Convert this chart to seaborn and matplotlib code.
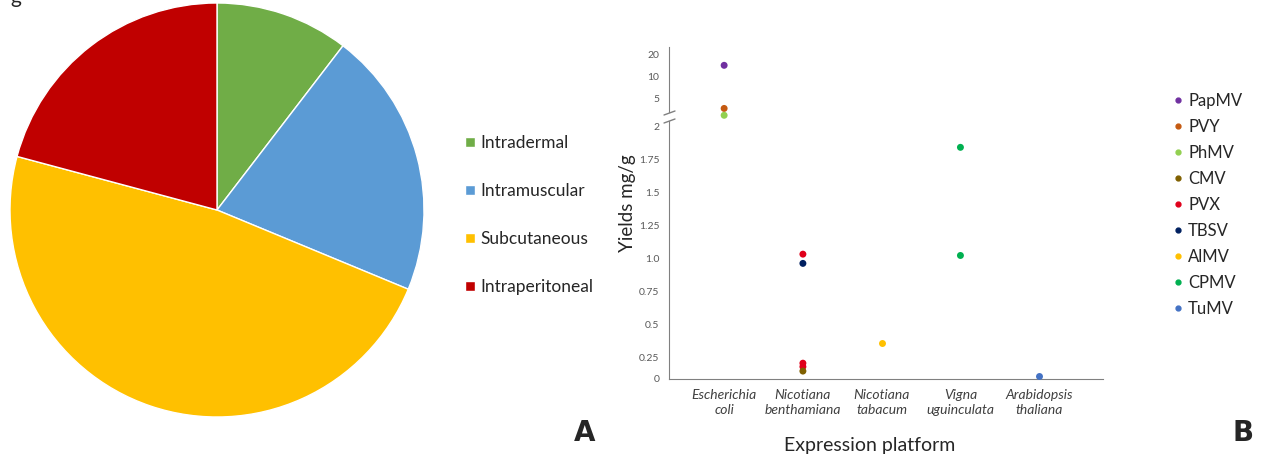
import numpy as np
import pandas as pd
import matplotlib
matplotlib.use("Agg")
import matplotlib.pyplot as plt
from matplotlib.lines import Line2D
import seaborn as sns

# Panel A: administration routes
routes = ["Intradermal", "Intramuscular", "Subcutaneous", "Intraperitoneal"]
route_counts = [5, 10, 23, 10]
route_colors = ["#70AD47", "#5B9BD5", "#FFC000", "#C00000"]

# Panel B: yields per expression platform
platforms = ["Escherichia\ncoli", "Nicotiana\nbenthamiana", "Nicotiana\ntabacum",
             "Vigna\nuguinculata", "Arabidopsis\nthaliana"]
viruses = ["PapMV", "PVY", "PhMV", "CMV", "PVX", "TBSV", "AlMV", "CPMV", "TuMV"]
virus_colors = ["#7030A0", "#C55A11", "#92D050", "#806000", "#E0001B",
                "#002060", "#FFC000", "#00B050", "#4472C4"]
point_virus = ["PapMV", "PVY", "PhMV", "PVX", "TBSV", "PVX", "PVX", "CMV",
               "AlMV", "CPMV", "CPMV", "TuMV"]
point_host = [platforms[0], platforms[0], platforms[0], platforms[1], platforms[1],
              platforms[1], platforms[1], platforms[1], platforms[2], platforms[3],
              platforms[3], platforms[4]]
point_yield = [14, 3.6, 2.9, 1.03, 0.96, 0.18, 0.14, 0.09, 0.355, 1.84, 1.02, 0.034]

sns.set_style("white")
plt.rcParams["font.family"] = ["Lato", "DejaVu Sans"]

fig = plt.figure(figsize=(12.61, 4.57), dpi=100)
W, H = 1261, 457


def fbox(x0, y0, x1, y1):
    # pixel box (top-left origin) -> figure fraction rect
    return [x0 / W, (H - y1) / H, (x1 - x0) / W, (y1 - y0) / H]


# ---- Panel A ----
ax_pie = fig.add_axes(fbox(10, 3, 424, 417))
wedges, _ = ax_pie.pie(route_counts, colors=route_colors, startangle=90,
                       counterclock=False,
                       wedgeprops=dict(edgecolor="white", linewidth=1))
ax_pie.set_xlim(-1, 1)
ax_pie.set_ylim(-1, 1)
ax_pie.set_aspect("equal")

fig.legend(wedges, routes, loc="upper left", bbox_to_anchor=(465 / W, 1 - 135 / H),
           frameon=False, borderpad=0, borderaxespad=0,
           handlelength=0.55, handleheight=0.55, handletextpad=0.35,
           labelspacing=1.85, fontsize=12.5)

# ---- Panel B ----
df = pd.DataFrame({"platform": point_host, "virus": point_virus, "yield": point_yield})
pal = dict(zip(viruses, virus_colors))
high = df[df["yield"] > 2.5]
low = df[df["yield"] <= 2.5]

ax_hi = fig.add_axes(fbox(669, 47, 1103, 117))
ax_lo = fig.add_axes(fbox(669, 117, 1103, 379))

sns.stripplot(data=high, x="platform", y="yield", hue="virus", order=platforms,
              hue_order=viruses, palette=pal, jitter=False, size=5, ax=ax_hi,
              legend=False, clip_on=False)
sns.stripplot(data=low, x="platform", y="yield", hue="virus", order=platforms,
              hue_order=viruses, palette=pal, jitter=False, size=5, ax=ax_lo,
              legend=False, clip_on=False)


def fwd(v):
    v = np.asarray(v, dtype=float)
    return np.where(v < 0.25, v * 2 / 3, v - 0.25 / 3)


def inv(u):
    u = np.asarray(u, dtype=float)
    return np.where(u < 0.5 / 3, u * 1.5, u + 0.25 / 3)


ax_lo.set_yscale("function", functions=(fwd, inv))
ax_lo.set_ylim(0, 2.07)
ax_lo.set_yticks([0, 0.25, 0.5, 0.75, 1.0, 1.25, 1.5, 1.75, 2])
ax_lo.set_yticklabels(["0", "0.25", "0.5", "0.75", "1.0", "1.25", "1.5", "1.75", "2"])

ax_hi.set_yscale("log")
ax_hi.set_ylim(5 * 2 ** (-19 / 22), 20 * 2 ** (7 / 22))
ax_hi.set_yticks([5, 10, 20])
ax_hi.set_yticklabels(["5", "10", "20"])
ax_hi.minorticks_off()

for ax in (ax_hi, ax_lo):
    ax.set_xlim(-0.7, 4.81)
    ax.set_xlabel("")
    ax.set_ylabel("")
    ax.patch.set_alpha(0)
    for s in ("top", "right"):
        ax.spines[s].set_visible(False)
    ax.spines["left"].set_color("#808080")
    ax.spines["bottom"].set_color("#808080")
    ax.tick_params(axis="both", length=0)
    ax.tick_params(axis="y", labelsize=7.5, labelcolor="#595959", pad=7)

ax_hi.spines["bottom"].set_visible(False)
ax_hi.set_xticks([])
ax_hi.spines["left"].set_bounds(5 * 2 ** (-14 / 22), 20 * 2 ** (7 / 22))
ax_lo.spines["left"].set_bounds(0, 2.04)

ax_lo.set_xticks(range(len(platforms)))
ax_lo.set_xticklabels(platforms, fontsize=10, style="italic", color="#404040",
                      linespacing=1.3)
ax_lo.tick_params(axis="x", pad=7)

# axis break marks
for yb in (113, 121):
    fig.add_artist(Line2D([664 / W, 675 / W], [1 - (yb + 2) / H, 1 - (yb - 2) / H],
                          color="#808080", lw=1))

fig.text(628 / W, 1 - 203 / H, "Yields mg/g", rotation=90, fontsize=13.5,
         ha="center", va="center")
fig.text(870 / W, 1 - 445 / H, "Expression platform", fontsize=14,
         ha="center", va="center")

handles = [Line2D([], [], marker="o", ls="", color=c, markersize=3.5) for c in virus_colors]
fig.legend(handles, viruses, loc="upper left", bbox_to_anchor=(1173 / W, 1 - 93 / H),
           frameon=False, borderpad=0, borderaxespad=0,
           handlelength=0.6, handletextpad=0.3, labelspacing=0.6,
           fontsize=12)

fig.text(585 / W, 1 - 433 / H, "A", fontsize=20, fontweight="bold",
         ha="center", va="center", family="DejaVu Sans")
fig.text(1243 / W, 1 - 433 / H, "B", fontsize=20, fontweight="bold",
         ha="center", va="center", family="DejaVu Sans")
fig.text(10 / W, 1 - 3 / H, "g", fontsize=15, ha="left", va="baseline")

fig.savefig("out.png", dpi=100)
